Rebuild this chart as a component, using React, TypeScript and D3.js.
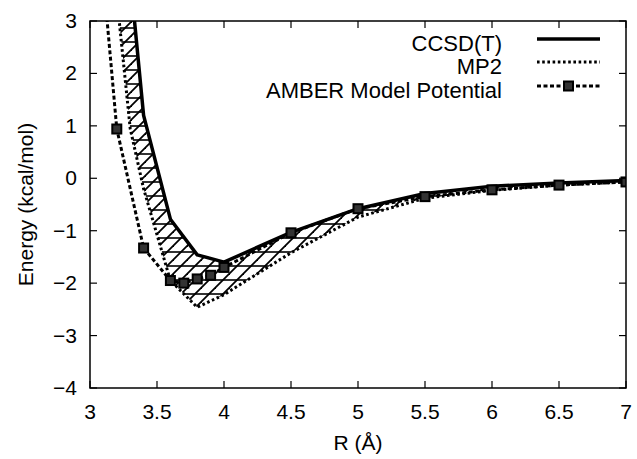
import React from "react";
import * as d3 from "d3";

// R in Angstrom, energies in kcal/mol
const ccsdR = [3.2, 3.4, 3.6, 3.8, 4.0, 4.5, 5.0, 5.5, 6.0, 6.5, 7.0];
const ccsdE = [6.5, 1.2, -0.78, -1.46, -1.6, -1.03, -0.58, -0.29, -0.15, -0.09, -0.04];

const mp2R = [3.2, 3.3, 3.4, 3.6, 3.8, 4.0, 4.5, 5.0, 5.5, 6.0, 6.5, 7.0];
const mp2E = [3.45, 0.95, -0.2, -1.95, -2.46, -2.22, -1.42, -0.74, -0.38, -0.23, -0.13, -0.07];

const amberR = [3.1, 3.2, 3.4, 3.6, 3.7, 3.8, 3.9, 4.0, 4.5, 5.0, 5.5, 6.0, 6.5, 7.0];
const amberE = [3.8, 0.94, -1.33, -1.95, -2.0, -1.92, -1.85, -1.7, -1.04, -0.58, -0.35, -0.22, -0.13, -0.07];

const xTicks = [3, 3.5, 4, 4.5, 5, 5.5, 6, 6.5, 7];
const yTicks = [-4, -3, -2, -1, 0, 1, 2, 3];

const legendLabels = ["CCSD(T)", "MP2", "AMBER Model Potential"];

const W = 637;
const H = 459;
const margin = { top: 21, right: 11, bottom: 71, left: 90 };
const font = "'Liberation Sans', Arial, Helvetica, sans-serif";

const App = () => {
  const innerW = W - margin.left - margin.right;
  const innerH = H - margin.top - margin.bottom;

  const x = d3.scaleLinear().domain([3, 7]).range([0, innerW]);
  const y = d3.scaleLinear().domain([-4, 3]).range([innerH, 0]);

  const line = d3
    .line<[number, number]>()
    .x((d) => x(d[0]))
    .y((d) => y(d[1]));

  const ccsd: [number, number][] = ccsdR.map((r, i) => [r, ccsdE[i]]);
  const mp2: [number, number][] = mp2R.map((r, i) => [r, mp2E[i]]);
  const amber: [number, number][] = amberR.map((r, i) => [r, amberE[i]]);

  // region between CCSD(T) and MP2
  const band = line([...ccsd, ...mp2.slice().reverse()]) + "Z";

  const legendY = [39, 62, 86];
  const lx1 = 537 - margin.left;
  const lx2 = 600 - margin.left;

  return (
    <svg width={W} height={H} style={{ position: "absolute", left: 0, top: 0, background: "#fff" }}>
      <defs>
        <clipPath id="plot">
          <rect x={0} y={0} width={innerW} height={innerH} />
        </clipPath>
        <pattern id="hatch" patternUnits="userSpaceOnUse" width={14} height={14}>
          <line x1={0} y1={14} x2={14} y2={0} stroke="#000" strokeWidth={1.8} />
          <line x1={-1} y1={1} x2={1} y2={-1} stroke="#000" strokeWidth={1.8} />
          <line x1={13} y1={15} x2={15} y2={13} stroke="#000" strokeWidth={1.8} />
          <line x1={0} y1={7} x2={14} y2={7} stroke="#000" strokeWidth={1.6} />
        </pattern>
      </defs>
      <g transform={`translate(${margin.left},${margin.top})`} fontFamily={font}>
        <g clipPath="url(#plot)">
          <path d={band} fill="url(#hatch)" stroke="none" />
          <path d={line(ccsd) ?? ""} fill="none" stroke="#000" strokeWidth={3.5} strokeLinejoin="round" />
          <path d={line(mp2) ?? ""} fill="none" stroke="#000" strokeWidth={3} strokeDasharray="2.6 2.6" />
          <path d={line(amber) ?? ""} fill="none" stroke="#000" strokeWidth={3} strokeDasharray="4 2.5" />
          {amber.map((d, i) => (
            <rect
              key={i}
              x={x(d[0]) - 4.5}
              y={y(d[1]) - 4.5}
              width={9}
              height={9}
              fill="#333"
              stroke="#000"
              strokeWidth={2}
            />
          ))}
        </g>

        {/* frame and ticks */}
        <rect x={0} y={0} width={innerW} height={innerH} fill="none" stroke="#000" strokeWidth={1.5} />
        {xTicks.map((t) => (
          <g key={t}>
            <line x1={x(t)} x2={x(t)} y1={innerH} y2={innerH - 7} stroke="#000" strokeWidth={1.2} />
            <line x1={x(t)} x2={x(t)} y1={0} y2={7} stroke="#000" strokeWidth={1.2} />
            <text x={x(t)} y={innerH + 31} textAnchor="middle" fontSize={21}>
              {t}
            </text>
          </g>
        ))}
        {yTicks.map((t) => (
          <g key={t}>
            <line x1={0} x2={7} y1={y(t)} y2={y(t)} stroke="#000" strokeWidth={1.2} />
            <line x1={innerW} x2={innerW - 7} y1={y(t)} y2={y(t)} stroke="#000" strokeWidth={1.2} />
            <text x={-13} y={y(t) + 7} textAnchor="end" fontSize={21}>
              {t < 0 ? "\u2212" + Math.abs(t) : t}
            </text>
          </g>
        ))}

        <text x={innerW / 2} y={innerH + 62} textAnchor="middle" fontSize={21}>
          R (Å)
        </text>
        <text
          transform={`translate(${-57},${innerH / 2}) rotate(-90)`}
          textAnchor="middle"
          fontSize={21}
        >
          Energy (kcal/mol)
        </text>

        {/* legend */}
        {legendLabels.map((lab, i) => (
          <text key={lab} x={502 - margin.left} y={legendY[i] - margin.top + 12} textAnchor="end" fontSize={22}>
            {lab}
          </text>
        ))}
        <line x1={lx1} x2={lx2} y1={legendY[0] - margin.top} y2={legendY[0] - margin.top} stroke="#000" strokeWidth={3.5} />
        <line
          x1={lx1}
          x2={lx2}
          y1={legendY[1] - margin.top}
          y2={legendY[1] - margin.top}
          stroke="#000"
          strokeWidth={3}
          strokeDasharray="2.6 2.6"
        />
        <line
          x1={lx1}
          x2={lx2}
          y1={legendY[2] - margin.top}
          y2={legendY[2] - margin.top}
          stroke="#000"
          strokeWidth={3}
          strokeDasharray="4 2.5"
        />
        <rect
          x={(lx1 + lx2) / 2 - 4.5}
          y={legendY[2] - margin.top - 4.5}
          width={9}
          height={9}
          fill="#333"
          stroke="#000"
          strokeWidth={2}
        />
      </g>
    </svg>
  );
};

export default App;
